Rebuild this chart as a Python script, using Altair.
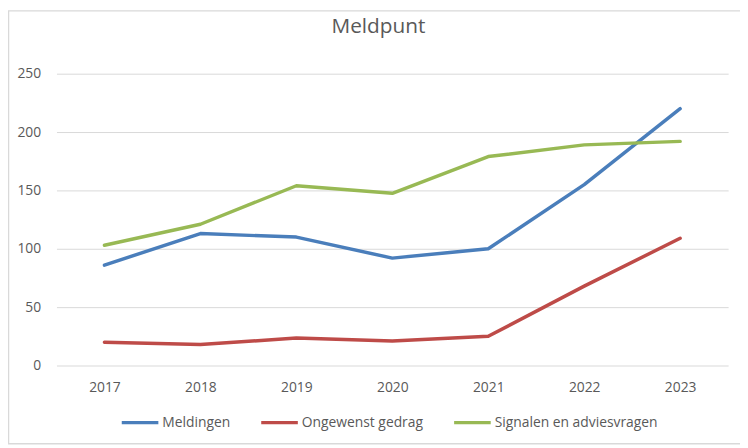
import altair as alt
import pandas as pd

years = ["2017", "2018", "2019", "2020", "2021", "2022", "2023"]
meldingen = [86, 113, 110, 92, 100, 155, 220]
ongewenst = [20, 18, 23.5, 21, 25, 68, 109]
signalen = [103, 121, 154, 147.5, 179, 189, 192]
series_names = ["Meldingen", "Ongewenst gedrag", "Signalen en adviesvragen"]
series_colors = ["#4A7EBB", "#BE4B48", "#98B954"]

rows = []
for name, vals in zip(series_names, [meldingen, ongewenst, signalen]):
    for y, v in zip(years, vals):
        rows.append({"Jaar": y, "Waarde": v, "Reeks": name})
df = pd.DataFrame(rows)

FONT = "Open Sans"
GREY = "#595959"

lines = alt.Chart(df).mark_line(strokeWidth=3.5, strokeCap="round", strokeJoin="round").encode(
    x=alt.X("Jaar:O", sort=years, title=None,
            scale=alt.Scale(type="point", padding=0.5),
            axis=alt.Axis(labelAngle=0, domain=False, ticks=False, grid=False,
                          labelPadding=15, labelFontSize=14, labelColor=GREY, labelFont=FONT)),
    y=alt.Y("Waarde:Q", title=None,
            scale=alt.Scale(domain=[0, 250], nice=False),
            axis=alt.Axis(values=[0, 50, 100, 150, 200, 250], domain=False, ticks=False,
                          gridColor="#D9D9D9", gridWidth=1, labelPadding=16,
                          labelFontSize=14, labelColor=GREY, labelFont=FONT)),
    color=alt.Color("Reeks:N", sort=series_names,
                    scale=alt.Scale(domain=series_names, range=series_colors),
                    legend=alt.Legend(title=None, orient="none", direction="horizontal",
                                      legendX=64, legendY=332, padding=0,
                                      symbolType="stroke", symbolSize=1369,
                                      symbolStrokeWidth=3.5, labelOffset=2,
                                      columnPadding=24, labelFontSize=14,
                                      labelColor=GREY, labelFont=FONT,
                                      labelLimit=300)),
)

border = alt.Chart(pd.DataFrame({"k": [0]})).mark_rect(
    fill=None, stroke="#D9D9D9", strokeWidth=1.5
).encode(
    x=alt.value(-48.5), x2=alt.value(720), y=alt.value(-63.5), y2=alt.value(374)
)

chart = alt.layer(border, lines).properties(
    width=679, height=295,
    padding={"left": 49, "top": 64, "right": 12, "bottom": 81},
    autosize=alt.AutoSizeParams(type="none"),
    title=alt.TitleParams("Meldpunt", fontSize=21, font=FONT, fontWeight="normal",
                          color=GREY, anchor="middle", dx=-14, baseline="alphabetic",
                          offset=-44.5),
).configure_view(stroke=None)

chart.save("out.html", embed_options={"renderer": "svg", "actions": False})
